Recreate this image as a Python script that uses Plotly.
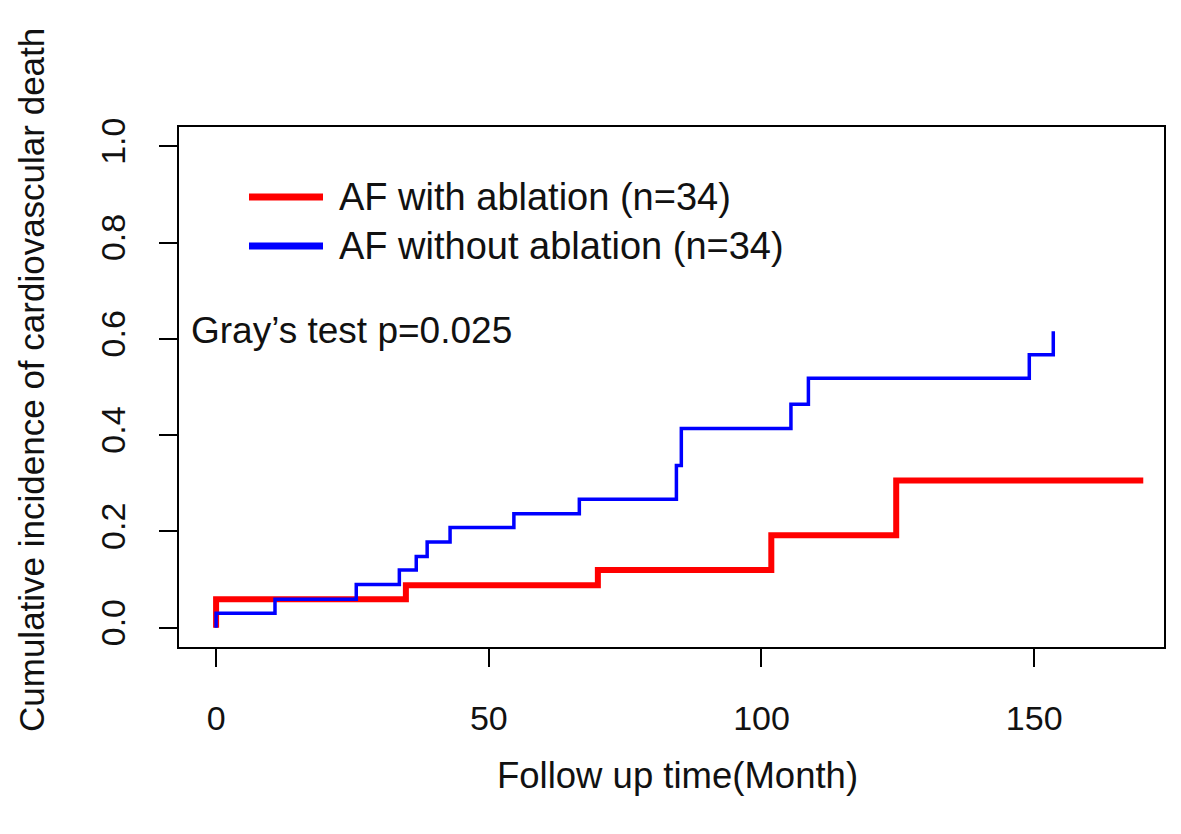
import plotly.graph_objects as go

# Data (cumulative incidence step functions)
red_time = [0, 0, 34.8, 70.0, 101.8, 124.7, 170.0]
red_cif = [0, 0.059, 0.088, 0.120, 0.192, 0.306, 0.306]

blue_time = [0, 0, 10.8, 25.7, 33.6, 36.7, 38.7, 42.9, 54.6, 66.6, 84.4, 85.3,
             105.4, 108.6, 149.1, 153.5]
blue_cif = [0, 0.030, 0.059, 0.090, 0.120, 0.148, 0.178, 0.208, 0.237, 0.267,
            0.337, 0.414, 0.464, 0.518, 0.567, 0.616]

x_ticks = [0, 50, 100, 150]
y_ticks = [0.0, 0.2, 0.4, 0.6, 0.8, 1.0]
y_tick_labels = ["0.0", "0.2", "0.4", "0.6", "0.8", "1.0"]

legend_labels = ["AF with ablation (n=34)", "AF without ablation (n=34)"]
colors = ["#ff0000", "#0000ff"]
test_text = "Gray\u2019s test p=0.025"
x_title = "Follow up time(Month)"
y_title = "Cumulative incidence of cardiovascular death"

FONT = "Liberation Sans, Arial, sans-serif"

fig = go.Figure()
fig.add_trace(go.Scatter(x=red_time, y=red_cif, mode="lines", line_shape="hv",
                         line=dict(color=colors[0], width=6), name=legend_labels[0],
                         showlegend=False))
fig.add_trace(go.Scatter(x=blue_time, y=blue_cif, mode="lines", line_shape="hv",
                         line=dict(color=colors[1], width=3.5), name=legend_labels[1],
                         showlegend=False))

axis_common = dict(showline=True, linecolor="black", linewidth=2, mirror=True,
                   ticks="outside", ticklen=18, tickwidth=2, tickcolor="black",
                   showgrid=False, zeroline=False,
                   tickfont=dict(family=FONT, size=34, color="#111"))

fig.update_xaxes(range=[-6.8, 173.8], tickvals=x_ticks, ticklabelstandoff=22,
                 **axis_common)
fig.update_yaxes(range=[-0.04, 1.04], tickvals=y_ticks, ticktext=y_tick_labels,
                 tickangle=-90, ticklabelstandoff=20, **axis_common)

W, H = 1181, 834
OX, OY = 7, 8  # page offset of the rendered figure
L, T = 178 - OX, 127 - OY
pw, ph = 985, 520
R, B = W - L - pw, H - T - ph

def px(xp):
    return (xp - OX - L) / pw

def py(yp):
    return (T + ph - (yp - OY)) / ph

# Manual legend
legend_rows = [197, 246]
for lab, col, yy in zip(legend_labels, colors, legend_rows):
    fig.add_shape(type="line", xref="paper", yref="paper",
                  x0=px(248), x1=px(322), y0=py(yy), y1=py(yy),
                  line=dict(color=col, width=7))
    fig.add_annotation(xref="paper", yref="paper", x=px(336), y=py(yy),
                       xanchor="left", yanchor="middle", text=lab, showarrow=False,
                       font=dict(family=FONT, size=38, color="#111"))

fig.add_annotation(xref="paper", yref="paper", x=px(188), y=py(330),
                   xanchor="left", yanchor="middle", text=test_text, showarrow=False,
                   font=dict(family=FONT, size=37, color="#111"))

fig.add_annotation(xref="paper", yref="paper", x=px(676), y=py(775),
                   xanchor="center", yanchor="middle", text=x_title, showarrow=False,
                   font=dict(family=FONT, size=36.5, color="#111"))
fig.add_annotation(xref="paper", yref="paper", x=px(30), y=py(380),
                   xanchor="center", yanchor="middle", text=y_title, showarrow=False,
                   textangle=-90, font=dict(family=FONT, size=35, color="#111"))

fig.update_layout(width=W, height=H, margin=dict(l=L, r=R, t=T, b=B),
                  plot_bgcolor="white", paper_bgcolor="white",
                  font=dict(family=FONT))

fig.write_html("out.html")
